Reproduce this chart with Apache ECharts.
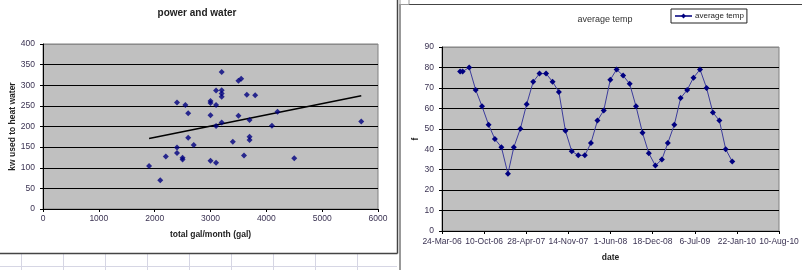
<!DOCTYPE html>
<html><head><meta charset="utf-8">
<script src="https://cdn.jsdelivr.net/npm/echarts@6/dist/echarts.min.js"></script>
<style>html,body{margin:0;padding:0;background:#fff}#c{width:802px;height:270px}</style>
</head><body><div id="c"></div><script>
// ---- left chart: power and water ----
const gallons = [3200,3500,3550,3100,3200,3200,3200,3650,3800,2400,2550,3000,3000,3100,2600,3000,3500,3200,3100,3700,4100,4200,2600,2700,2400,2400,2200,2500,2500,3000,3100,3400,3700,3700,3600,1900,2100,5700,4500];
const kwUsed  = [332,311,316,287,288,280,272,277,276,258,252,262,257,252,232,227,226,210,201,216,202,236,173,155,149,136,127,124,120,117,112,163,175,167,130,104,70,212,123];
// ---- right chart: average temp ----
const tempDates = ['2006-06-18','2006-06-30','2006-07-31','2006-08-31','2006-09-30','2006-10-31','2006-11-30','2006-12-31',
 '2007-01-31','2007-02-28','2007-03-31','2007-04-30','2007-05-31','2007-06-30','2007-07-31','2007-08-31','2007-09-30','2007-10-31','2007-11-30','2007-12-31',
 '2008-01-31','2008-02-29','2008-03-31','2008-04-30','2008-05-31','2008-06-30','2008-07-31','2008-08-31','2008-09-30','2008-10-31','2008-11-30','2008-12-31',
 '2009-01-31','2009-02-28','2009-03-31','2009-04-30','2009-05-31','2009-06-30','2009-07-31','2009-08-31','2009-09-30','2009-10-31','2009-11-30','2009-12-31'];
const avgTemp = [78,78,80,69,61,52,45,41,
 28,41,50,62,73,77,77,73,68,49,39,37,
 37,43,54,59,74,79,76,72,61,48,38,32,
 35,43,52,65,69,75,79,70,58,54,40,34];
const dateAxisStart = '2006-03-24';
const dateAxisEnd = '2010-08-10';
const monthNames = ['Jan','Feb','Mar','Apr','May','Jun','Jul','Aug','Sep','Oct','Nov','Dec'];

const EPOCH = Date.UTC(1899,11,30);
function serial(s){const p=s.split('-').map(Number);return Math.round((Date.UTC(p[0],p[1]-1,p[2])-EPOCH)/86400000);}
function fmtSerial(v){const d=new Date(EPOCH+v*86400000);return d.getUTCDate()+'-'+monthNames[d.getUTCMonth()]+'-'+String(d.getUTCFullYear()%100).padStart(2,'0');}

// least squares trendline
const n=gallons.length;
let sx=0,sy=0,sxx=0,sxy=0;
for(let i=0;i<n;i++){sx+=gallons[i];sy+=kwUsed[i];sxx+=gallons[i]*gallons[i];sxy+=gallons[i]*kwUsed[i];}
const slope=(n*sxy-sx*sy)/(n*sxx-sx*sx), icpt=(sy-slope*sx)/n;
const xMin=Math.min(...gallons), xMax=Math.max(...gallons);
const trend=[[xMin,slope*xMin+icpt],[xMax,slope*xMax+icpt]];

const FONT='"Liberation Sans", Arial, sans-serif';
const LBL='#3a3252';
const navy='#000080';
function grey(k){const a=[];for(let i=0;i<k;i++)a.push(i===k-1?'#8a8a8a':'#000');return a;}

const chart=echarts.init(document.getElementById('c'),null,{renderer:'canvas'});
chart.setOption({
  animation:false,
  backgroundColor:'#fff',
  textStyle:{fontFamily:FONT},
  title:[
    {text:'power and water',left:197,top:8,textAlign:'center',padding:0,textStyle:{fontSize:10,fontWeight:'bold',color:'#222',fontFamily:FONT}},
    {text:'average temp',left:605,top:15,textAlign:'center',padding:0,textStyle:{fontSize:9,fontWeight:'normal',color:'#333',fontFamily:FONT}}
  ],
  legend:{data:['average temp'],left:671,top:9,orient:'horizontal',padding:[3,3,3,3],borderColor:'#222',borderWidth:1,
    itemWidth:17,itemHeight:6,itemGap:4,textStyle:{fontSize:8,color:'#222',fontFamily:FONT,padding:[0,0,0,-2]}},
  grid:[
    {left:43,top:44,width:335,height:165,show:true,backgroundColor:'#c0c0c0',borderColor:'#808080',borderWidth:1},
    {left:442,top:47,width:337,height:184,show:true,backgroundColor:'#c0c0c0',borderColor:'#808080',borderWidth:1}
  ],
  xAxis:[
    {gridIndex:0,type:'value',min:0,max:6000,interval:1000,
     name:'total gal/month (gal)',nameLocation:'middle',nameGap:21,nameTextStyle:{fontSize:8.5,fontWeight:'bold',color:'#222'},
     axisLine:{show:true,onZero:false,lineStyle:{color:'#000',width:1}},axisTick:{show:true,length:3,lineStyle:{color:'#000'}},
     axisLabel:{fontSize:8.5,color:LBL,margin:5,formatter:v=>String(v)},splitLine:{show:false}},
    {gridIndex:1,type:'value',min:serial(dateAxisStart),max:serial(dateAxisEnd),interval:200,
     name:'date',nameLocation:'middle',nameGap:22,nameTextStyle:{fontSize:8.5,fontWeight:'bold',color:'#222'},
     axisLine:{show:true,onZero:false,lineStyle:{color:'#000',width:1}},axisTick:{show:true,length:3,lineStyle:{color:'#000'}},
     axisLabel:{fontSize:8.5,color:LBL,margin:6,formatter:fmtSerial,showMinLabel:true,showMaxLabel:true,hideOverlap:false},splitLine:{show:false}}
  ],
  yAxis:[
    {gridIndex:0,type:'value',min:0,max:400,interval:50,
     name:'kw used to heat water',nameLocation:'middle',nameGap:26,nameTextStyle:{fontSize:8.5,fontWeight:'bold',color:'#222'},
     axisLine:{show:true,lineStyle:{color:'#000',width:1}},axisTick:{show:true,length:3,lineStyle:{color:'#000'}},
     axisLabel:{fontSize:8.5,color:LBL,margin:8,formatter:v=>String(v)},splitLine:{show:true,lineStyle:{color:grey(9),width:1}}},
    {gridIndex:1,type:'value',min:0,max:90,interval:10,
     name:'f',nameLocation:'middle',nameGap:21,nameTextStyle:{fontSize:8.5,fontWeight:'bold',color:'#222'},
     axisLine:{show:true,lineStyle:{color:'#000',width:1}},axisTick:{show:true,length:3,lineStyle:{color:'#000'}},
     axisLabel:{fontSize:8.5,color:LBL,margin:8},splitLine:{show:true,lineStyle:{color:grey(10),width:1}}}
  ],
  series:[
    {type:'scatter',xAxisIndex:0,yAxisIndex:0,symbol:'diamond',symbolSize:6,itemStyle:{color:navy},
     data:gallons.map((g,i)=>[g,kwUsed[i]]),z:3},
    {type:'line',xAxisIndex:0,yAxisIndex:0,data:trend,showSymbol:false,symbol:'none',lineStyle:{color:'#000',width:1.5},z:2,silent:true},
    {name:'average temp',type:'line',xAxisIndex:1,yAxisIndex:1,symbol:'diamond',symbolSize:6,
     itemStyle:{color:navy},lineStyle:{color:'#3c3c9c',width:1},
     data:tempDates.map((d,i)=>[serial(d),avgTemp[i]])}
  ],
  graphic:[
    // left chart frame
    {type:'line',shape:{x1:397.5,y1:0,x2:397.5,y2:253.5},style:{stroke:'#444',lineWidth:1.5},z:10},
    {type:'line',shape:{x1:0,y1:253.5,x2:397.5,y2:253.5},style:{stroke:'#444',lineWidth:1.5},z:10},
    // right chart frame
    {type:'line',shape:{x1:400,y1:4,x2:400,y2:270},style:{stroke:'#555',lineWidth:1.2},z:10},
    {type:'line',shape:{x1:400,y1:4.5,x2:802,y2:4.5},style:{stroke:'#444',lineWidth:1.2},z:10},
    {type:'rect',shape:{x:400,y:-1,width:9,height:5.5},style:{fill:'#fff',stroke:'#999',lineWidth:1},z:10},
    // spreadsheet cells below left chart
    {type:'line',shape:{x1:0,y1:266.5,x2:397,y2:266.5},style:{stroke:'#d6d6e4',lineWidth:1}},
    {type:'line',shape:{x1:21.5,y1:254,x2:21.5,y2:270},style:{stroke:'#d6d6e4',lineWidth:1}},
    {type:'line',shape:{x1:63.5,y1:254,x2:63.5,y2:270},style:{stroke:'#d6d6e4',lineWidth:1}},
    {type:'line',shape:{x1:105.5,y1:254,x2:105.5,y2:270},style:{stroke:'#d6d6e4',lineWidth:1}},
    {type:'line',shape:{x1:147.5,y1:254,x2:147.5,y2:270},style:{stroke:'#d6d6e4',lineWidth:1}},
    {type:'line',shape:{x1:189.5,y1:254,x2:189.5,y2:270},style:{stroke:'#d6d6e4',lineWidth:1}},
    {type:'line',shape:{x1:231.5,y1:254,x2:231.5,y2:270},style:{stroke:'#d6d6e4',lineWidth:1}},
    {type:'line',shape:{x1:273.5,y1:254,x2:273.5,y2:270},style:{stroke:'#d6d6e4',lineWidth:1}},
    {type:'line',shape:{x1:315.5,y1:254,x2:315.5,y2:270},style:{stroke:'#d6d6e4',lineWidth:1}},
    {type:'line',shape:{x1:357.5,y1:254,x2:357.5,y2:270},style:{stroke:'#d6d6e4',lineWidth:1}}
  ]
});
</script></body></html>
